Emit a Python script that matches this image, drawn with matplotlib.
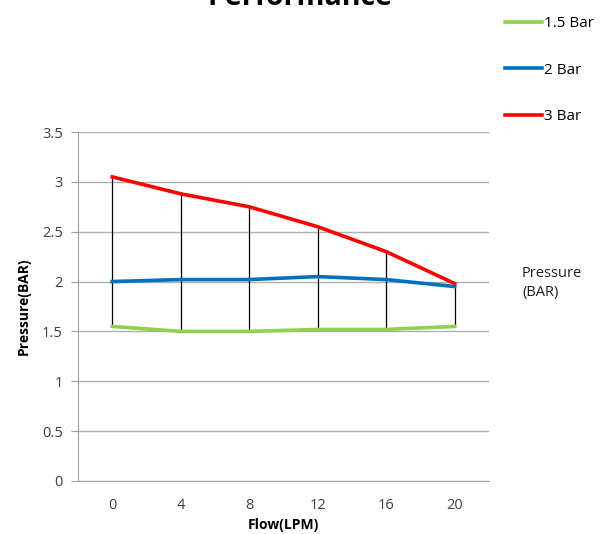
import matplotlib.pyplot as plt
import numpy as np

plt.rcParams['font.family'] = ['Open Sans', 'DejaVu Sans']

# data
flow = ['0', '4', '8', '12', '16', '20']
p15 = [1.55, 1.50, 1.50, 1.52, 1.52, 1.55]
p2 = [2.00, 2.02, 2.02, 2.05, 2.02, 1.95]
p3 = [3.05, 2.88, 2.75, 2.55, 2.30, 1.98]
names = ['1.5 Bar', '2 Bar', '3 Bar']
colors = ['#92d050', '#0070c0', '#ff0000']

fig = plt.figure(figsize=(6.07, 5.34), dpi=100)
ax = fig.add_axes([0.1285, 0.0993, 0.677, 0.6535])

x = np.arange(len(flow))
# high-low lines
ax.vlines(x, p15, p3, colors='black', linewidth=0.9, zorder=2)
handles = []
for vals, name, c in zip([p15, p2, p3], names, colors):
    h, = ax.plot(x, vals, color=c, linewidth=2.6, label=name, zorder=3)
    handles.append(h)

ax.set_xlim(-0.5, len(flow) - 0.5)
ax.set_ylim(0, 3.5)
ax.set_yticks(np.arange(0, 3.51, 0.5))
ax.set_yticklabels(['0', '0.5', '1', '1.5', '2', '2.5', '3', '3.5'])
ax.set_xticks(x)
ax.set_xticklabels(flow)
ax.tick_params(axis='x', length=0, pad=12, labelsize=10.5, colors='#404040')
ax.tick_params(axis='y', length=5, color='#a0a0a0', pad=6, labelsize=10.5, colors='#404040')
ax.grid(axis='y', color='#b0b0b0', linewidth=1)
ax.set_axisbelow(True)
for s in ['top', 'right']:
    ax.spines[s].set_visible(False)
for s in ['left', 'bottom']:
    ax.spines[s].set_color('#a0a0a0')

ax.set_xlabel('Flow(LPM)', fontweight='bold', fontsize=10, labelpad=4)
ax.set_ylabel('Pressure(BAR)', fontweight='bold', fontsize=10, labelpad=8)

fig.text(0.495, 0.991, 'Performance', ha='center', va='baseline', fontsize=20.5, fontweight='bold')
fig.text(0.86, 0.47, 'Pressure\n(BAR)', ha='left', va='center', fontsize=10.5, color='#202020', linespacing=1.45)

fig.legend(handles=handles, loc='upper left', bbox_to_anchor=(0.81, 0.995), frameon=False,
           fontsize=11, labelspacing=2.05, handlelength=2.4, handletextpad=0.15)

fig.savefig('out.png', dpi=100)
